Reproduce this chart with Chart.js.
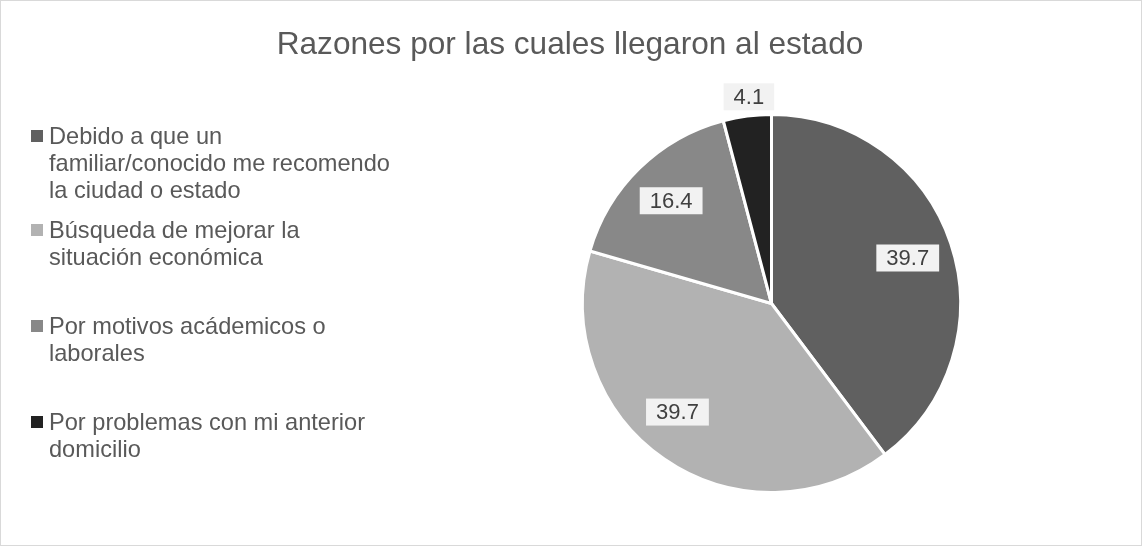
<!DOCTYPE html>
<html>
<head>
<meta charset="utf-8">
<script src="https://cdn.jsdelivr.net/npm/chart.js@4"></script>
<style>
  html, body { margin: 0; padding: 0; background: #fff; }
  #wrap { width: 1142px; height: 546px; position: relative; }
</style>
</head>
<body>
<div id="wrap"><canvas id="grafico"></canvas></div>
<script>
// === DATA ===
const chartTitle = "Razones por las cuales llegaron al estado";
const categories = [
  ["Debido a que un", "familiar/conocido me recomendo", "la ciudad o estado"],
  ["Búsqueda de mejorar la", "situación económica"],
  ["Por motivos acádemicos o", "laborales"],
  ["Por problemas con mi anterior", "domicilio"]
];
const values = [39.7, 39.7, 16.4, 4.1];

const FONT = "'Liberation Sans', Arial, sans-serif";

// marco, titulo y leyenda dibujados a mano (la leyenda de Chart.js no parte lineas)
const decorPlugin = {
  id: "decor",
  beforeDraw(chart) {
    const ctx = chart.ctx;
    ctx.save();
    ctx.fillStyle = "#fff";
    ctx.fillRect(0, 0, chart.width, chart.height);
    ctx.strokeStyle = "#d9d9d9";
    ctx.lineWidth = 1;
    ctx.strokeRect(0.5, 0.5, chart.width - 1, chart.height - 1);

    ctx.fillStyle = "#595959";
    ctx.font = "31.6px " + FONT;
    ctx.textAlign = "center";
    ctx.textBaseline = "alphabetic";
    ctx.fillText(chartTitle, 570, 54);
    ctx.restore();
  },
  afterDraw(chart) {
    const ctx = chart.ctx;
    const ds = chart.data.datasets[0];
    const baselines = [144, 238, 334, 430];
    ctx.save();
    ctx.font = "23.6px " + FONT;
    ctx.textAlign = "left";
    ctx.textBaseline = "alphabetic";
    chart.data.labels.forEach((lines, i) => {
      const y0 = baselines[i];
      ctx.fillStyle = ds.backgroundColor[i];
      ctx.fillRect(31, y0 - 14, 12, 12);
      ctx.fillStyle = "#595959";
      lines.forEach((t, j) => ctx.fillText(t, 49, y0 + j * 27));
    });
    ctx.restore();
  }
};

// etiquetas de valor con caja gris clara
const labelPlugin = {
  id: "valueLabels",
  afterDatasetsDraw(chart, args, opts) {
    const ctx = chart.ctx;
    const meta = chart.getDatasetMeta(0);
    ctx.save();
    ctx.font = "22px " + FONT;
    ctx.textAlign = "center";
    ctx.textBaseline = "middle";
    meta.data.forEach((arc, i) => {
      const p = arc.getProps(["x", "y", "startAngle", "endAngle", "outerRadius"], true);
      const mid = (p.startAngle + p.endAngle) / 2 + (opts.shifts[i] || 0);
      const r = p.outerRadius * (opts.offsets[i] || 0.76);
      const x = p.x + Math.cos(mid) * r;
      const y = p.y + Math.sin(mid) * r;
      const txt = chart.data.datasets[0].data[i].toFixed(1);
      const w = ctx.measureText(txt).width + 20;
      const h = 27;
      ctx.fillStyle = "#f2f2f2";
      ctx.fillRect(x - w / 2, y - h / 2, w, h);
      ctx.fillStyle = "#404040";
      ctx.fillText(txt, x, y + 1);
    });
    ctx.restore();
  }
};

new Chart(document.getElementById("grafico"), {
  type: "pie",
  data: {
    labels: categories,
    datasets: [{
      data: values,
      backgroundColor: ["#606060", "#b2b2b2", "#888888", "#222222"],
      borderColor: "#ffffff",
      borderWidth: 3
    }]
  },
  options: {
    responsive: true,
    maintainAspectRatio: false,
    animation: false,
    layout: { padding: { top: 113, bottom: 52, left: 581, right: 180 } },
    plugins: {
      legend: { display: false },
      tooltip: { enabled: false },
      valueLabels: { offsets: [0.76, 0.76, 0.76, 1.1], shifts: [0, 0.11, 0, 0.02] }
    }
  },
  plugins: [decorPlugin, labelPlugin]
});
</script>
</body>
</html>
